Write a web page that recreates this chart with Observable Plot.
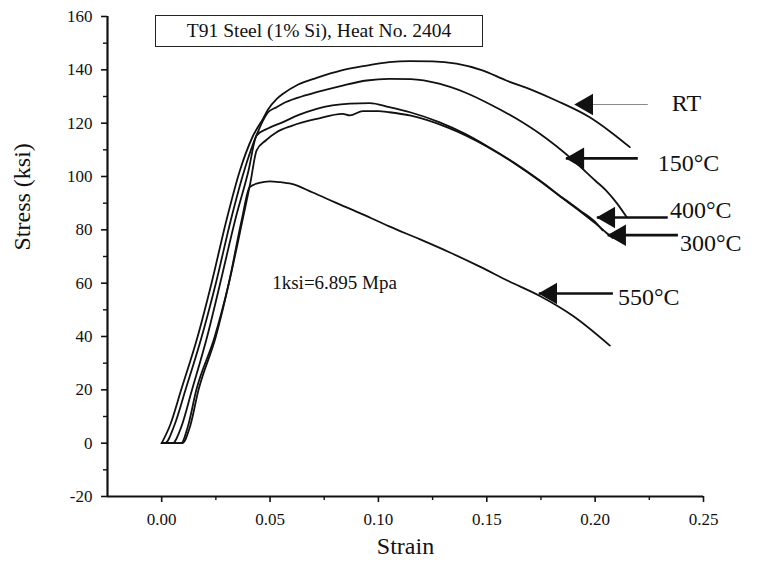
<!DOCTYPE html>
<html><head><meta charset="utf-8">
<script src="https://cdn.jsdelivr.net/npm/d3@7"></script>
<script src="https://cdn.jsdelivr.net/npm/@observablehq/plot@0.6"></script>
<style>
body{margin:0;background:#fff;}
#wrap{position:relative;width:773px;height:567px;}
#wrap svg text{font-family:"Liberation Serif",serif;}
#title{position:absolute;left:155px;top:15px;width:328px;height:32px;border:1.5px solid #222;box-sizing:border-box;font-family:"Liberation Serif",serif;font-size:19.5px;text-align:center;line-height:29px;color:#111;z-index:2;background:#fff;white-space:nowrap;}
</style></head><body>
<div id="wrap"></div>
<script>
// ---- data ----
const seriesNames = ["RT", "150°C", "400°C", "300°C", "550°C"];

const strainRT = [0, 0.004, 0.009, 0.0166, 0.023, 0.030, 0.036, 0.042, 0.047, 0.049, 0.053, 0.056, 0.063, 0.0715, 0.083, 0.0946, 0.105, 0.1145, 0.125, 0.136, 0.148, 0.159, 0.171, 0.182, 0.1975, 0.207, 0.216];
const stressRT = [0, 7, 20, 40, 60, 84, 102, 115, 122, 125, 129, 131, 134.5, 137, 139.8, 141.6, 142.9, 143.3, 143.2, 142.3, 139.8, 136, 132.4, 128.5, 122.2, 116.8, 111];

const strain150 = [0, 0.0015, 0.006, 0.011, 0.0185, 0.025, 0.032, 0.038, 0.044, 0.049, 0.053, 0.056, 0.063, 0.0715, 0.083, 0.0946, 0.105, 0.115, 0.128, 0.14, 0.151, 0.163, 0.1745, 0.19, 0.2, 0.205, 0.21, 0.2146];
const stress150 = [0, 0, 7, 20, 40, 60, 84, 102, 116, 124, 126, 127.4, 129.6, 131.6, 134, 136, 136.6, 136.5, 134.8, 131.5, 127.3, 122, 116, 106, 98.5, 94.8, 90, 84.7];

const strain400 = [0.002, 0.005, 0.009, 0.014, 0.021, 0.027, 0.034, 0.040, 0.0438, 0.049, 0.056, 0.063, 0.0715, 0.0868, 0.096, 0.105, 0.115, 0.128, 0.14, 0.151, 0.163, 0.1745, 0.185, 0.193, 0.2, 0.2035];
const stress400 = [0, 0, 6, 20, 40, 60, 84, 102, 115.4, 118, 120.4, 123, 125.4, 127.3, 127.5, 126, 124, 120.4, 116, 111, 105, 98.5, 92, 87.3, 83, 79.8];

const strain300 = [0, 0.009, 0.012, 0.016, 0.0245, 0.031, 0.0374, 0.041, 0.0438, 0.048, 0.053, 0.06, 0.0715, 0.0835, 0.0868, 0.0928, 0.1, 0.105, 0.115, 0.1315, 0.14, 0.151, 0.163, 0.1745, 0.185, 0.193, 0.2, 0.205, 0.208];
const stress300 = [0, 0, 6, 20, 40, 60, 84, 98, 109.8, 113.5, 116.6, 119, 121.6, 123.5, 122.9, 124.5, 124.5, 124.1, 122.8, 118.5, 115.5, 110.8, 104.8, 98.3, 91.8, 87, 82.5, 79, 77];

const strain550 = [0, 0.0095, 0.013, 0.017, 0.025, 0.031, 0.037, 0.0406, 0.045, 0.0498, 0.0545, 0.06, 0.0697, 0.08, 0.0928, 0.105, 0.119, 0.133, 0.1468, 0.16, 0.1745, 0.19, 0.2068];
const stress550 = [0, 0, 6, 20, 40, 60, 84, 96, 97.6, 98.2, 97.9, 97.2, 94, 90.3, 85.8, 81.3, 76.5, 71.5, 66.2, 60.8, 55.2, 47.6, 36.6];

// arrow annotations (data units)
const arrowTipStrain  = [0.1906, 0.1865, 0.2008, 0.2058, 0.174];
const arrowTipStress  = [127.0, 106.8, 84.6, 78.0, 56.1];
const arrowTailStrain = [0.2243, 0.2197, 0.2335, 0.2382, 0.2082];
const labelStrain     = [0.2354, 0.2289, 0.2345, 0.2391, 0.2105];
const labelStress     = [127.4, 104.9, 87.3, 74.9, 54.6];

const xTicks = [0, 0.05, 0.10, 0.15, 0.20, 0.25];
const xMinor = [0.025, 0.075, 0.125, 0.175, 0.225];
const yTicks = [-20, 0, 20, 40, 60, 80, 100, 120, 140, 160];
const yMinor = [-10, 10, 30, 50, 70, 90, 110, 130, 150];

const titleText = "T91 Steel (1% Si), Heat No. 2404";
const noteText = "1ksi=6.895 Mpa";
const noteStrain = 0.051, noteStress = 60;

// ---- build tables ----
const strains = [strainRT, strain150, strain400, strain300, strain550];
const stresses = [stressRT, stress150, stress400, stress300, stress550];
const curves = seriesNames.flatMap((name, i) => strains[i].map((s, j) => ({series: name, strain: s, stress: stresses[i][j]})));
const arrows = seriesNames.map((name, i) => ({
  name, tx: arrowTipStrain[i], ty: arrowTipStress[i], ex: arrowTailStrain[i],
  lx: labelStrain[i], ly: labelStress[i]
}));

const serif = '"Liberation Serif", serif';
const chart = Plot.plot({
  width: 773, height: 567,
  marginLeft: 107, marginRight: 70, marginTop: 16, marginBottom: 71,
  style: {fontFamily: serif, fontSize: "17px", color: "#111", background: "#fff"},
  x: {domain: [-0.025, 0.25]},
  y: {domain: [-20, 160]},
  marks: [
    Plot.axisX({ticks: xTicks, tickSize: 6, tickPadding: 10, tickFormat: d3.format(".2f"), label: null, strokeWidth: 1.6, fontSize: 17, fontFamily: serif}),
    Plot.axisX({ticks: xMinor, tickSize: 4, text: null, label: null, strokeWidth: 1.4}),
    Plot.axisY({ticks: yTicks, tickSize: 6, tickPadding: 9, tickFormat: d => String(d), label: null, strokeWidth: 1.6, fontSize: 17, fontFamily: serif}),
    Plot.axisY({ticks: yMinor, tickSize: 4, text: null, label: null, strokeWidth: 1.4}),
    Plot.ruleX([-0.025], {strokeWidth: 2.2, stroke: "#111"}),
    Plot.ruleY([-20], {strokeWidth: 2.2, stroke: "#111"}),
    Plot.line(curves, {x: "strain", y: "stress", z: "series", stroke: "#111", strokeWidth: 1.8, curve: "monotone-x"}),
    Plot.link(arrows, {x1: "tx", y1: "ty", x2: "ex", y2: "ty", stroke: d => d.name === "RT" ? "#888" : "#111", strokeWidth: d => d.name === "RT" ? 1.2 : 2.6}),
    Plot.dot(arrows, {x: "tx", y: "ty", symbol: "triangle", r: 8, rotate: -90, dx: 12, fill: "#111", stroke: "none"}),
    Plot.text(arrows, {x: "lx", y: "ly", text: "name", textAnchor: "start", fontSize: 24, fontFamily: serif, fill: "#111"}),
    Plot.text([noteText], {x: () => noteStrain, y: () => noteStress, text: d => d, textAnchor: "start", fontSize: 19, fontFamily: serif, fill: "#111"}),
    Plot.text(["Strain"], {frameAnchor: "bottom", dy: 57, text: d => d, fontSize: 24, fontFamily: serif, fill: "#111"}),
    Plot.text(["Stress (ksi)"], {frameAnchor: "left", dx: -85, dy: -6, rotate: -90, text: d => d, fontSize: 24, fontFamily: serif, fill: "#111"})
  ]
});
const wrap = document.getElementById("wrap");
wrap.appendChild(chart);
const t = document.createElement("div");
t.id = "title";
t.textContent = titleText;
wrap.appendChild(t);
</script>
</body></html>
